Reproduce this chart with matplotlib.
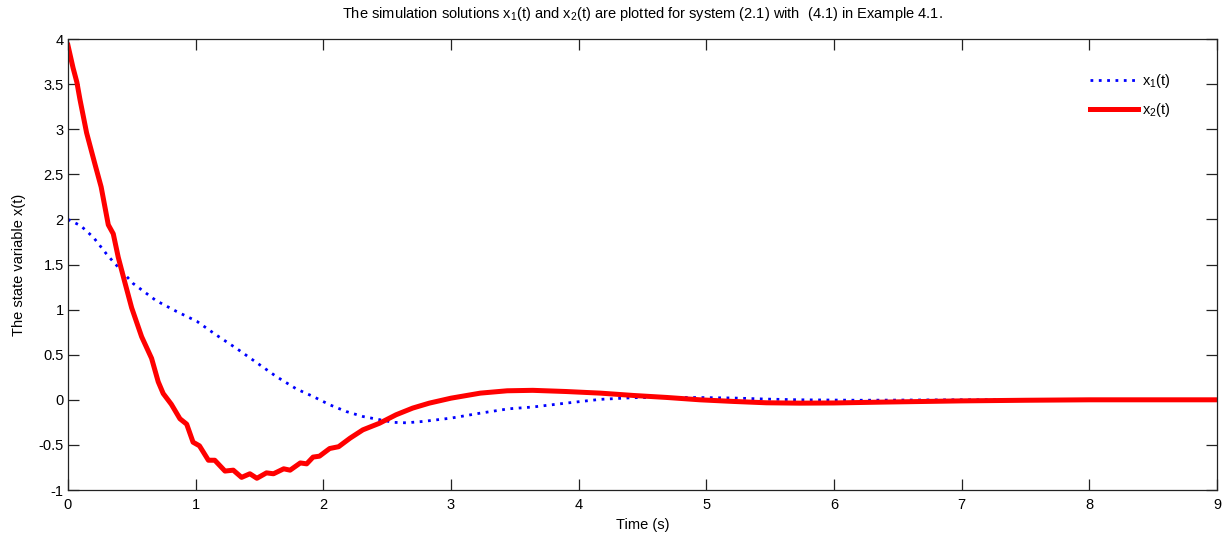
import numpy as np
import matplotlib.pyplot as plt
from matplotlib.ticker import FormatStrFormatter

plt.rcParams['font.family'] = ['Liberation Sans', 'DejaVu Sans']
plt.rcParams['mathtext.fontset'] = 'custom'
plt.rcParams['mathtext.rm'] = 'Liberation Sans'
plt.rcParams['mathtext.default'] = 'regular'
plt.rcParams['axes.unicode_minus'] = False

# x2(t)
t_x2 = [0.0, 0.04, 0.07, 0.094, 0.146, 0.21, 0.26, 0.316, 0.355, 0.394, 0.446,
        0.499, 0.577, 0.655, 0.707, 0.746, 0.81, 0.877, 0.93, 0.98, 1.03, 1.10,
        1.15, 1.23, 1.295, 1.36, 1.425, 1.48, 1.555, 1.61, 1.69, 1.74, 1.82,
        1.87, 1.92, 1.97, 2.05, 2.12, 2.21, 2.31, 2.44, 2.57, 2.70, 2.83, 3.0,
        3.23, 3.44, 3.64, 3.90, 4.17, 4.43, 4.69, 4.95, 5.21, 5.47, 5.73, 6.0,
        6.4, 7.0, 7.5, 8.0, 9.0]
x2 = [3.93, 3.68, 3.52, 3.33, 2.96, 2.62, 2.36, 1.94, 1.84, 1.58, 1.30,
      1.02, 0.70, 0.46, 0.20, 0.07, -0.05, -0.21, -0.27, -0.47, -0.51, -0.67,
      -0.67, -0.79, -0.78, -0.86, -0.82, -0.87, -0.81, -0.82, -0.765, -0.78, -0.70,
      -0.71, -0.635, -0.625, -0.54, -0.52, -0.425, -0.333, -0.26, -0.166, -0.092, -0.037, 0.018,
      0.074, 0.10, 0.105, 0.092, 0.074, 0.048, 0.026, 0.0, -0.018, -0.033, -0.037, -0.035,
      -0.025, -0.012, -0.005, 0.0, 0.0]

# x1(t)
t_x1 = [0.0, 0.1, 0.2, 0.3, 0.355, 0.51, 0.69, 0.85, 1.01, 1.16, 1.32, 1.48,
        1.63, 1.79, 1.92, 2.05, 2.18, 2.31, 2.44, 2.55, 2.65, 2.78, 3.0, 3.23,
        3.45, 3.64, 3.90, 4.17, 4.43, 4.69, 4.95, 5.21, 5.47, 5.73, 6.2, 7.0, 9.0]
x1 = [2.0, 1.93, 1.80, 1.62, 1.53, 1.29, 1.10, 0.98, 0.87, 0.72, 0.57, 0.41,
      0.26, 0.12, 0.037, -0.055, -0.13, -0.185, -0.22, -0.25, -0.255, -0.24, -0.203, -0.148,
      -0.10, -0.08, -0.037, 0.005, 0.024, 0.026, 0.025, 0.02, 0.008, 0.0, -0.005, 0.0, 0.0]

xticks = np.arange(0, 10, 1)
yticks = np.arange(-1, 4.01, 0.5)

fig = plt.figure(figsize=(12.31, 5.35), dpi=100)
ax = fig.add_axes([0.0552, 0.0841, 0.9334, 0.843])

ax.plot(t_x1, x1, color='blue', linestyle=(0, (1, 2)), linewidth=2.0, label='x$_1$(t)')
ax.plot(t_x2, x2, color='red', linewidth=3.6, label='x$_2$(t)')

ax.set_xlim(0, 9)
ax.set_ylim(-1, 4)
ax.set_xticks(xticks)
ax.set_yticks(yticks)
ax.yaxis.set_major_formatter(FormatStrFormatter('%g'))
ax.tick_params(direction='in', length=8, width=0.9, top=True, right=True,
               labelsize=10.5, pad=3, color='#222222')
ax.tick_params(axis='x', pad=6)
for s in ax.spines.values():
    s.set_linewidth(0.9)
    s.set_color('#222222')

ax.set_xlabel('Time (s)', fontsize=10.5, labelpad=4)
ax.set_ylabel('The state variable x(t)', fontsize=10.5, labelpad=9)
ax.set_title('The simulation solutions x$_1$(t) and x$_2$(t) are plotted for system (2.1) with  (4.1) in Example 4.1.',
             fontsize=10.5, pad=15)

ax.legend(loc='upper right', bbox_to_anchor=(0.971, 0.955), frameon=False,
          fontsize=10.5, handlelength=3.3, labelspacing=0.7, handletextpad=0.3)

fig.savefig('out.png', dpi=100)
